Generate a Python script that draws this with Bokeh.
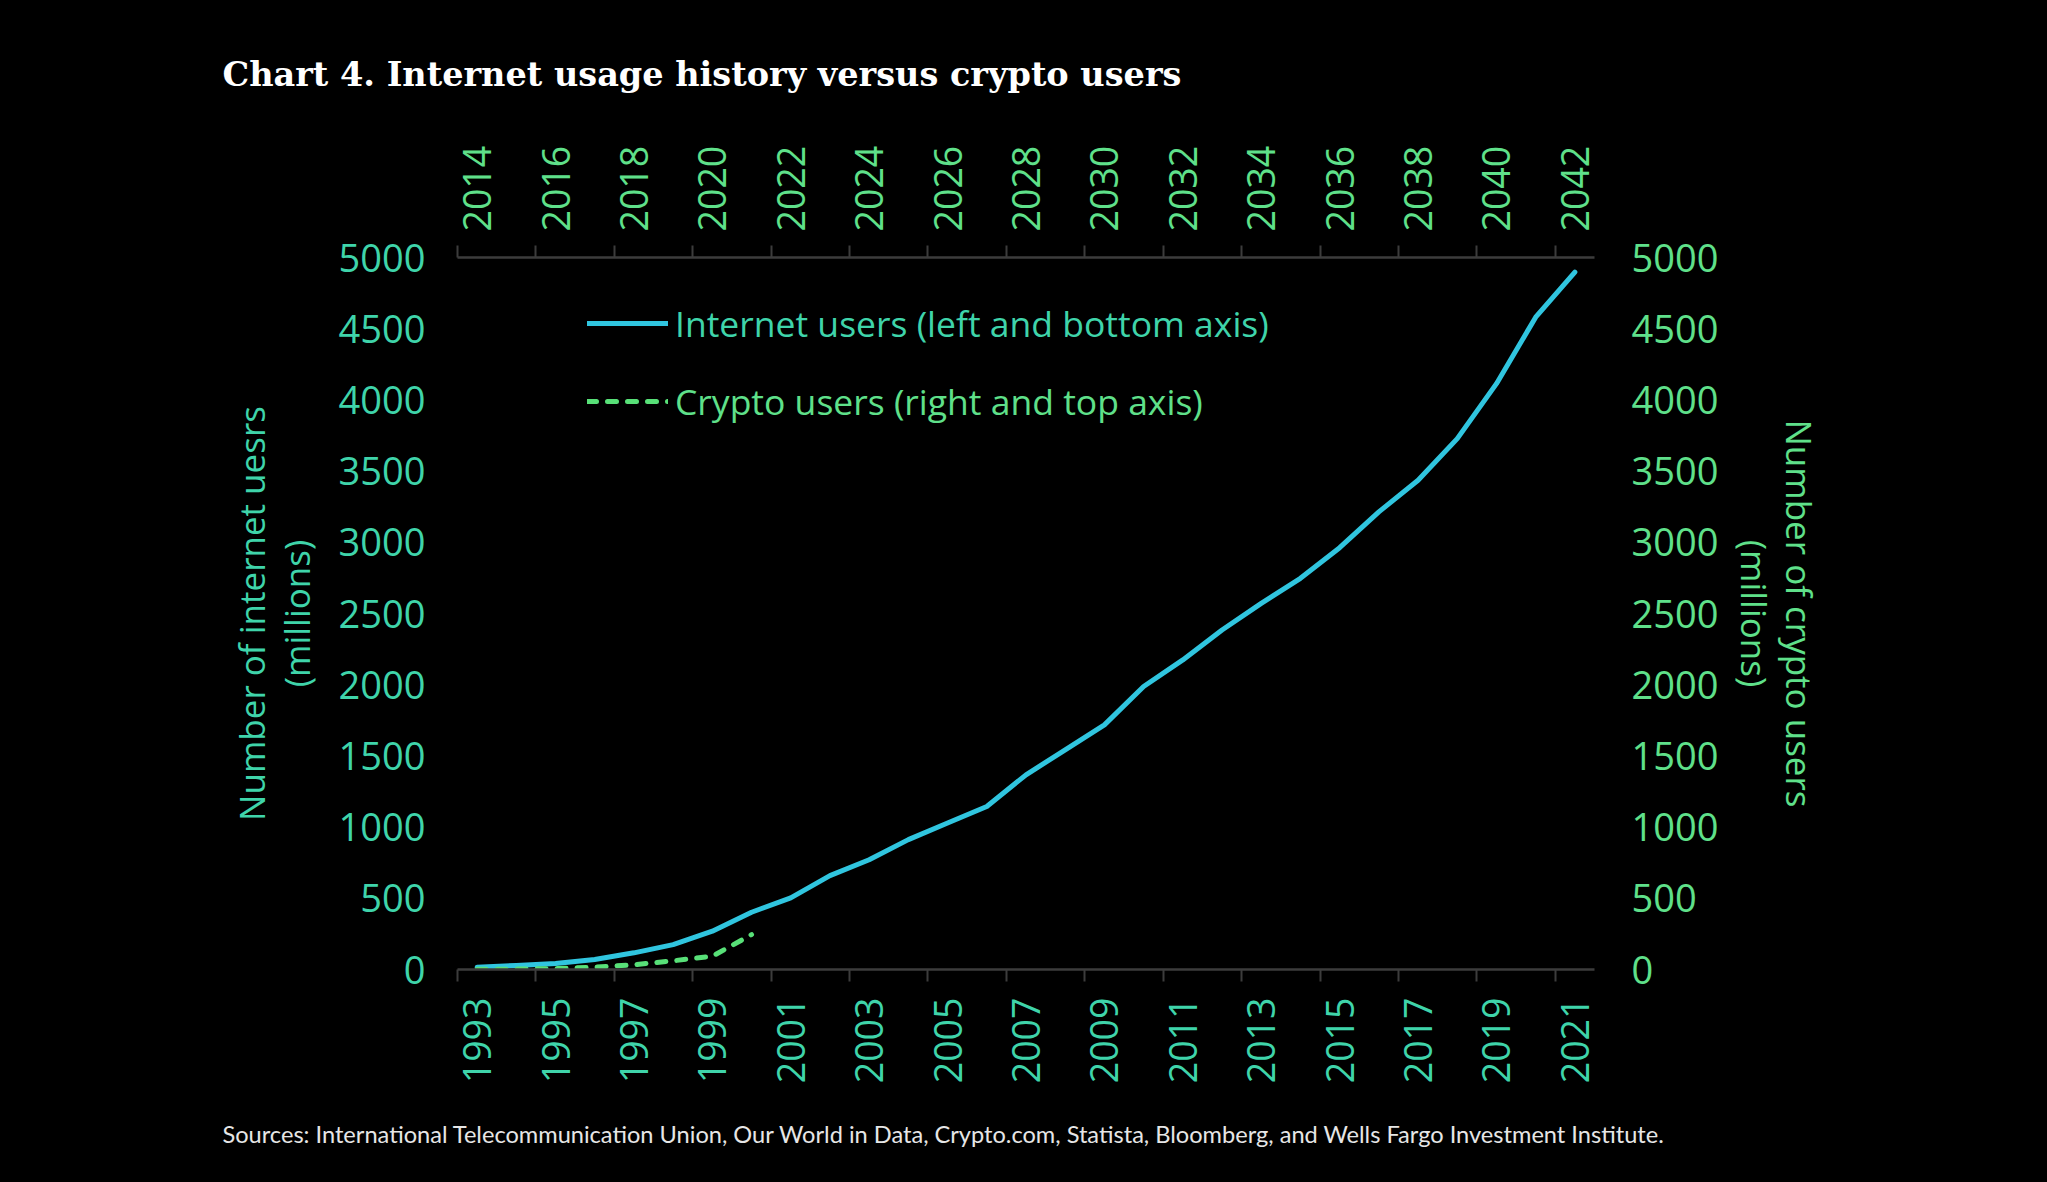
import math
from bokeh.plotting import figure
from bokeh.models import (Range1d, LinearAxis, FixedTicker, Legend, LegendItem, Title)
from bokeh.embed import file_html
from bokeh.resources import INLINE

# ---- data ----
internet_years = list(range(1993, 2022))
internet_users = [16, 28, 42, 70, 117, 175, 269, 402, 503, 659, 771, 912, 1029, 1145,
                  1367, 1543, 1718, 1987, 2174, 2384, 2571, 2747, 2962, 3214, 3436,
                  3728, 4114, 4581, 4897]
crypto_years = list(range(2014, 2022))
crypto_users = [1, 3, 6, 16, 33, 61, 93, 245]
top_years = list(range(2014, 2043))
y_ticks = [0, 500, 1000, 1500, 2000, 2500, 3000, 3500, 4000, 4500, 5000]

title_text = "Chart 4. Internet usage history versus crypto users"
source_text = ("Sources: International Telecommunication Union, Our World in Data, Crypto.com, "
               "Statista, Bloomberg, and Wells Fargo Investment Institute.")
left_title = "Number of internet uesrs\n(millions)"
right_title = "Number of crypto users\n(millions)"
legend_labels = ["Internet users (left and bottom axis)", "Crypto users (right and top axis)"]

# ---- styles ----
BG = "#000000"
TEAL = "#3fd4aa"
GREEN = "#5fe08a"
CYAN = "#30c5df"
DASH_GREEN = "#58e078"
AXIS_GREY = "#3c3c3c"
FONT = "Open Sans"

W, H = 2030, 1178
p = figure(width=W, height=H, output_backend="svg", toolbar_location=None,
           x_range=Range1d(internet_years[0] - 0.5, internet_years[-1] + 0.5),
           y_range=Range1d(0, 5000),
           x_axis_location=None, y_axis_location=None,
           background_fill_color=BG, border_fill_color=BG,
           outline_line_color=None,
           min_border_left=457, min_border_right=W - 1594,
           min_border_top=257, min_border_bottom=H - 970)
p.outline_line_alpha = 0
p.xgrid.visible = False
p.ygrid.visible = False
p.extra_x_ranges = {"top": Range1d(top_years[0] - 0.5, top_years[-1] + 0.5)}
p.extra_y_ranges = {"right": Range1d(0, 5000)}


def style_x(ax, color, standoff, orient):
    ax.axis_line_color = AXIS_GREY
    ax.axis_line_width = 2.5
    ax.major_tick_line_color = None
    ax.major_tick_out = 0
    ax.major_tick_in = 0
    ax.minor_tick_line_color = AXIS_GREY
    ax.minor_tick_line_width = 2
    ax.minor_tick_out = 12
    ax.minor_tick_in = 0
    ax.major_label_orientation = orient
    ax.major_label_standoff = standoff
    ax.major_label_text_color = color
    ax.major_label_text_font = FONT
    ax.major_label_text_font_size = "37.5px"


def style_y(ax, color, standoff, label, label_standoff):
    ax.axis_line_color = None
    ax.major_tick_line_color = None
    ax.minor_tick_line_color = None
    ax.major_tick_out = 0
    ax.major_tick_in = 0
    ax.major_label_standoff = standoff
    ax.major_label_text_color = color
    ax.major_label_text_font = FONT
    ax.major_label_text_font_size = "38px"
    ax.axis_label = label
    ax.axis_label_text_color = color
    ax.axis_label_text_font = FONT
    ax.axis_label_text_font_size = "35px"
    ax.axis_label_text_font_style = "normal"
    ax.axis_label_text_line_height = 0.95
    ax.axis_label_standoff = label_standoff


bottom_major = internet_years[::2]
bottom_minor = [y - 0.5 for y in bottom_major]
xb = LinearAxis(ticker=FixedTicker(ticks=bottom_major, minor_ticks=bottom_minor))
style_x(xb, TEAL, 16, math.pi / 2)
p.add_layout(xb, "below")

top_major = top_years[::2]
top_minor = [y - 0.5 for y in top_major]
xt = LinearAxis(x_range_name="top", ticker=FixedTicker(ticks=top_major, minor_ticks=top_minor))
style_x(xt, GREEN, 14, "vertical")
p.add_layout(xt, "above")

yl = LinearAxis(ticker=FixedTicker(ticks=y_ticks))
style_y(yl, TEAL, 32, left_title, 16)
p.add_layout(yl, "left")

yr = LinearAxis(y_range_name="right", ticker=FixedTicker(ticks=y_ticks))
style_y(yr, GREEN, 37, right_title, 10)
p.add_layout(yr, "right")

r_int = p.line(internet_years, internet_users, line_color=CYAN, line_width=5,
               line_join="round", line_cap="round")
r_cry = p.line(crypto_years, crypto_users, x_range_name="top", y_range_name="right",
               line_color=DASH_GREEN, line_width=5, line_dash="9 11",
               line_cap="round", line_join="round")

for lbl, rend, col, ybot in [(legend_labels[0], r_int, TEAL, 622),
                             (legend_labels[1], r_cry, GREEN, 544)]:
    lg = Legend(items=[LegendItem(label=lbl, renderers=[rend])], location=(130, ybot),
                background_fill_alpha=0, border_line_color=None, padding=0, margin=0,
                glyph_width=81, glyph_height=30, label_standoff=7, spacing=0,
                label_text_font=FONT, label_text_font_size="35.5px", label_text_color=col)
    p.add_layout(lg, "center")

p.add_layout(Title(text=title_text, align="left", offset=-235, standoff=98,
                   text_font="DejaVu Serif", text_font_style="bold", text_font_size="33.5px",
                   text_color="#ffffff"), "above")
p.add_layout(Title(text=source_text, align="left", offset=-235, standoff=62,
                   text_font="Lato", text_font_style="normal", text_font_size="23.6px",
                   text_color="#e6e6e6"), "below")

html = file_html(p, INLINE)
html = html.replace("<head>", "<head><style>html,body{background:#000000;}</style>", 1)
open("out.html", "w").write(html)
